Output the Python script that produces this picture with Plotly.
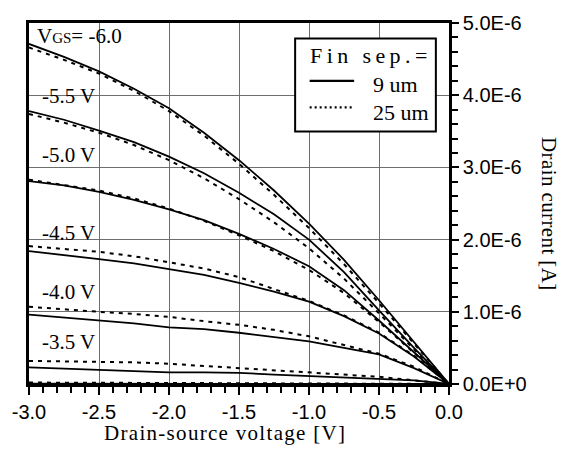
import plotly.graph_objects as go

# Drain-source voltage [V]
vds = [-3.0, -2.75, -2.5, -2.25, -2.0, -1.75, -1.5, -1.25, -1.0, -0.75, -0.5, -0.25, 0.0]

# Drain current in microamps, fin separation 9 um (solid)
id9_vgs_m60 = [4.71, 4.53, 4.33, 4.09, 3.82, 3.48, 3.10, 2.68, 2.22, 1.72, 1.16, 0.58, 0.0]
id9_vgs_m55 = [3.78, 3.66, 3.51, 3.35, 3.15, 2.92, 2.65, 2.35, 2.00, 1.55, 1.02, 0.50, 0.0]
id9_vgs_m50 = [2.81, 2.75, 2.66, 2.55, 2.42, 2.27, 2.08, 1.87, 1.63, 1.30, 0.88, 0.44, 0.0]
id9_vgs_m45 = [1.84, 1.79, 1.73, 1.67, 1.59, 1.51, 1.40, 1.28, 1.14, 0.94, 0.70, 0.38, 0.0]
id9_vgs_m40 = [0.96, 0.92, 0.885, 0.84, 0.785, 0.76, 0.71, 0.65, 0.59, 0.50, 0.41, 0.22, 0.0]
id9_vgs_m35 = [0.23, 0.215, 0.20, 0.18, 0.16, 0.16, 0.155, 0.13, 0.11, 0.095, 0.08, 0.05, 0.0]
id9_vgs_m30 = [0.005, 0.005, 0.005, 0.004, 0.004, 0.003, 0.003, 0.002, 0.002, 0.001, 0.001, 0.0, 0.0]

# Drain current in microamps, fin separation 25 um (dotted)
id25_vgs_m60 = [4.66, 4.49, 4.30, 4.06, 3.78, 3.44, 3.05, 2.62, 2.16, 1.66, 1.12, 0.56, 0.0]
id25_vgs_m55 = [3.74, 3.62, 3.48, 3.31, 3.10, 2.85, 2.56, 2.24, 1.88, 1.46, 0.98, 0.48, 0.0]
id25_vgs_m50 = [2.83, 2.76, 2.68, 2.57, 2.43, 2.26, 2.06, 1.84, 1.58, 1.26, 0.86, 0.43, 0.0]
id25_vgs_m45 = [1.91, 1.87, 1.83, 1.77, 1.69, 1.60, 1.48, 1.32, 1.15, 0.95, 0.71, 0.39, 0.0]
id25_vgs_m40 = [1.07, 1.03, 1.00, 0.97, 0.93, 0.87, 0.82, 0.75, 0.66, 0.54, 0.42, 0.24, 0.0]
id25_vgs_m35 = [0.32, 0.315, 0.31, 0.30, 0.28, 0.25, 0.23, 0.20, 0.17, 0.14, 0.10, 0.05, 0.0]
id25_vgs_m30 = [0.02, 0.02, 0.018, 0.016, 0.015, 0.013, 0.011, 0.009, 0.007, 0.005, 0.003, 0.001, 0.0]

solid_series = [id9_vgs_m60, id9_vgs_m55, id9_vgs_m50, id9_vgs_m45, id9_vgs_m40, id9_vgs_m35, id9_vgs_m30]
dotted_series = [id25_vgs_m60, id25_vgs_m55, id25_vgs_m50, id25_vgs_m45, id25_vgs_m40, id25_vgs_m35, id25_vgs_m30]
vgs_values = ["-6.0", "-5.5", "-5.0", "-4.5", "-4.0", "-3.5", "-3.0"]

x_tickvals = [-3.0, -2.5, -2.0, -1.5, -1.0, -0.5, 0.0]
x_ticktext = ["-3.0", "-2.5", "-2.0", "-1.5", "-1.0", "-0.5", "0.0"]
y_tickvals = [0.0, 1e-6, 2e-6, 3e-6, 4e-6, 5e-6]
y_ticktext = ["0.0E+0", "1.0E-6", "2.0E-6", "3.0E-6", "4.0E-6", "5.0E-6"]

curve_labels = ["-5.5 V", "-5.0 V", "-4.5 V", "-4.0 V", "-3.5 V"]

W, H = 563, 449
ML, MR, MT, MB = 24, 114, 16, 65
PW, PH = W - ML - MR, H - MT - MB

def X(px):
    return (px - ML) / PW

def Y(py):
    return (H - MB - py) / PH

SERIF = "Liberation Serif, Times New Roman, serif"
SANS = "Liberation Sans, Arial, sans-serif"

fig = go.Figure()
for vg, s in zip(vgs_values, solid_series):
    fig.add_trace(go.Scatter(x=vds, y=[v * 1e-6 for v in s], mode="lines",
                             line=dict(color="black", width=1.8),
                             name="9 um, VGS=" + vg, showlegend=False))
for vg, s in zip(vgs_values, dotted_series):
    fig.add_trace(go.Scatter(x=vds, y=[v * 1e-6 for v in s], mode="lines",
                             line=dict(color="black", width=2, dash="4px,5px"),
                             name="25 um, VGS=" + vg, showlegend=False))

annotations = []
# VGS label
annotations.append(dict(xref="paper", yref="paper", x=X(30), y=Y(29), xanchor="left", yanchor="middle",
                        text="V<span style='font-size:15px'>GS</span>= -6.0", showarrow=False,
                        font=dict(family=SERIF, size=21, color="black")))
label_y = [90.7, 151, 230.5, 290, 341.5]
for t, py in zip(curve_labels, label_y):
    annotations.append(dict(xref="paper", yref="paper", x=X(35), y=Y(py), xanchor="left", yanchor="middle",
                            text=t, showarrow=False, font=dict(family=SERIF, size=21, color="black")))
# axis titles
annotations.append(dict(xref="paper", yref="paper", x=X(222.5), y=Y(434), xanchor="center", yanchor="middle",
                        text="<span style='letter-spacing:1.3px'>Drain-source voltage [V]</span>", showarrow=False,
                        font=dict(family=SERIF, size=21, color="black")))
annotations.append(dict(xref="paper", yref="paper", x=X(550), y=Y(210.5), xanchor="center", yanchor="middle",
                        text="<span style='letter-spacing:0.4px'>Drain current [A]</span>", textangle=90, showarrow=False,
                        font=dict(family=SERIF, size=21, color="black")))
# legend texts
annotations.append(dict(xref="paper", yref="paper", x=X(306), y=Y(49.5), xanchor="left", yanchor="middle",
                        text="F\u2009i\u2009n\u2009 \u2009s\u2009e\u2009p\u2009.\u2009=", showarrow=False,
                        font=dict(family=SERIF, size=22, color="black")))
annotations.append(dict(xref="paper", yref="paper", x=X(370), y=Y(79), xanchor="left", yanchor="middle",
                        text="9 um", showarrow=False, font=dict(family=SERIF, size=22, color="black")))
annotations.append(dict(xref="paper", yref="paper", x=X(370), y=Y(107), xanchor="left", yanchor="middle",
                        text="25 um", showarrow=False, font=dict(family=SERIF, size=22, color="black")))

shapes = [
    dict(type="rect", xref="paper", yref="paper", x0=X(293.3), x1=X(435.7), y0=Y(31.7), y1=Y(126.7),
         line=dict(color="black", width=2), fillcolor="white", layer="above"),
    dict(type="line", xref="paper", yref="paper", x0=X(308), x1=X(353), y0=Y(75), y1=Y(75),
         line=dict(color="black", width=2.3), layer="above"),
    dict(type="line", xref="paper", yref="paper", x0=X(308), x1=X(353), y0=Y(102), y1=Y(102),
         line=dict(color="black", width=2.3, dash="2px,3px"), layer="above"),
]

fig.update_layout(
    width=W, height=H,
    margin=dict(l=ML, r=MR, t=MT, b=MB, pad=0),
    paper_bgcolor="white", plot_bgcolor="white",
    showlegend=False,
    annotations=annotations, shapes=shapes,
    xaxis=dict(range=[-3.0, 0.0], tickvals=x_tickvals, ticktext=x_ticktext,
               showgrid=True, gridcolor="#6e6e6e", gridwidth=1.2,
               showline=True, linecolor="black", linewidth=2.5, mirror=True,
               ticks="outside", ticklen=8, tickwidth=2, tickcolor="black",
               minor=dict(dtick=0.1, ticks="outside", ticklen=6, tickwidth=1.5, tickcolor="black", showgrid=False),
               tickfont=dict(family=SANS, size=20, color="black"), zeroline=False),
    yaxis=dict(range=[0, 5e-6], side="right", tickvals=y_tickvals, ticktext=y_ticktext,
               showgrid=True, gridcolor="#6e6e6e", gridwidth=1.2,
               showline=True, linecolor="black", linewidth=2.5, mirror=True,
               ticks="outside", ticklen=7, tickwidth=2, tickcolor="black",
               minor=dict(dtick=0.2e-6, ticks="outside", ticklen=6, tickwidth=1.5, tickcolor="black", showgrid=False),
               tickfont=dict(family=SANS, size=20, color="black"), zeroline=False),
)

fig.write_html("out.html")
